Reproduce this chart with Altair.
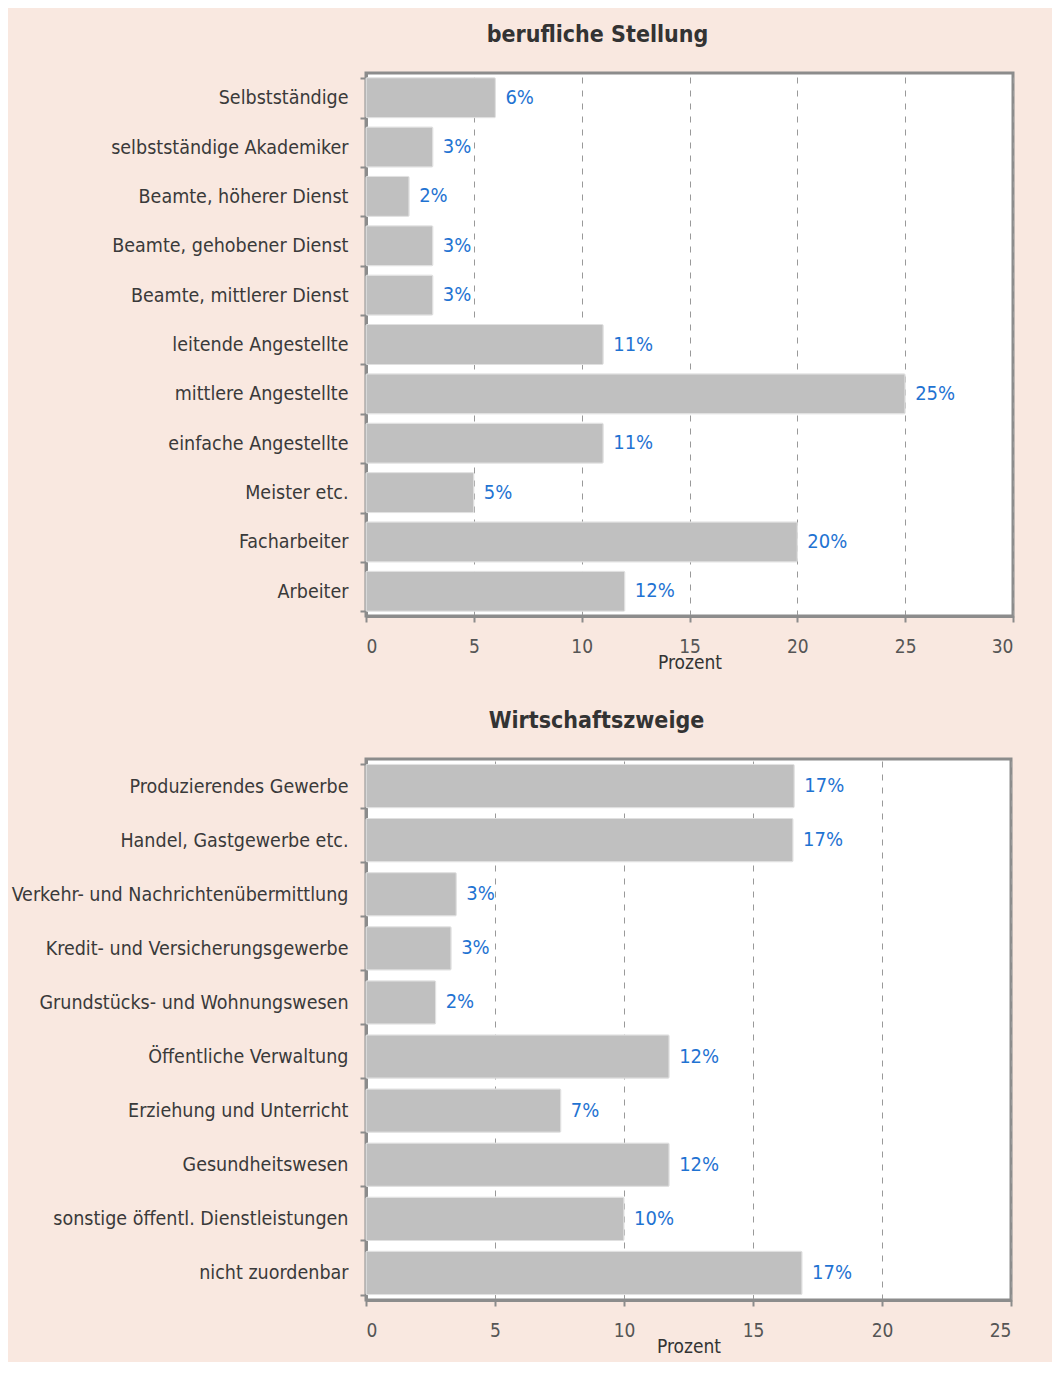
import altair as alt
import pandas as pd

# --- data ---
stellung_cats = ["Selbstständige", "selbstständige Akademiker", "Beamte, höherer Dienst",
                 "Beamte, gehobener Dienst", "Beamte, mittlerer Dienst", "leitende Angestellte",
                 "mittlere Angestellte", "einfache Angestellte", "Meister etc.",
                 "Facharbeiter", "Arbeiter"]
stellung_vals = [6.0, 3.1, 2.0, 3.1, 3.1, 11.0, 25.0, 11.0, 5.0, 20.0, 12.0]
stellung_lbls = ["6%", "3%", "2%", "3%", "3%", "11%", "25%", "11%", "5%", "20%", "12%"]

zweige_cats = ["Produzierendes Gewerbe", "Handel, Gastgewerbe etc.",
               "Verkehr- und Nachrichtenübermittlung", "Kredit- und Versicherungsgewerbe",
               "Grundstücks- und Wohnungswesen", "Öffentliche Verwaltung",
               "Erziehung und Unterricht", "Gesundheitswesen",
               "sonstige öffentl. Dienstleistungen", "nicht zuordenbar"]
zweige_vals = [16.6, 16.55, 3.5, 3.3, 2.7, 11.75, 7.55, 11.75, 10.0, 16.9]
zweige_lbls = ["17%", "17%", "3%", "3%", "2%", "12%", "7%", "12%", "10%", "17%"]

stellung_ticks = [0, 5, 10, 15, 20, 25, 30]
zweige_ticks = [0, 5, 10, 15, 20, 25]

FONT = "DejaVu Sans Condensed, Roboto, sans-serif"
PINK = "#f9e8e0"
BAR = "#c0c0c0"
BLUE = "#1f73d2"


def panel(cats, vals, lbls, ticks, title, w, h, pad):
    df = pd.DataFrame({"cat": cats, "val": vals, "lbl": lbls})
    x = alt.X("val:Q", title="Prozent",
              scale=alt.Scale(domain=[ticks[0], ticks[-1]], nice=False),
              axis=alt.Axis(values=ticks, grid=True, gridDash=[6, 7], gridColor="#999999",
                            gridWidth=1, domainColor="#8c8c8c", domainWidth=3,
                            tickColor="#8c8c8c", tickWidth=2, tickSize=6,
                            labelFont=FONT, labelFontSize=19, labelColor="#555555",
                            labelPadding=15, titleFont=FONT, titleFontSize=19,
                            titleFontWeight="normal", titleColor="#333333",
                            titlePadding=-3))
    y = alt.Y("cat:N", sort=cats, title=None,
              scale=alt.Scale(paddingInner=pad, paddingOuter=pad / 2),
              axis=alt.Axis(domainColor="#8c8c8c", domainWidth=3, tickColor="#8c8c8c",
                            tickWidth=2, tickSize=6, tickBand="extent",
                            labelFont=FONT, labelFontSize=19.5, labelColor="#3a3a3a",
                            labelPadding=12, labelLimit=400))
    bars = alt.Chart(df).mark_bar(color=BAR, stroke="#e0e0e0", strokeWidth=1,
                                  cornerRadius=1).encode(x=x, y=y)
    text = alt.Chart(df).mark_text(align="left", baseline="middle", dx=10, color=BLUE,
                                   font=FONT, fontSize=20).encode(
        x=alt.X("val:Q"), y=alt.Y("cat:N", sort=cats), text="lbl:N")
    return (bars + text).properties(
        width=w, height=h,
        title=alt.TitleParams(title, font=FONT, fontSize=23, fontWeight="bold",
                              color="#333333", anchor="middle", dx=-92, offset=16))


top = panel(stellung_cats, stellung_vals, stellung_lbls, stellung_ticks,
            "berufliche Stellung", 647, 543, 0.19)
bottom = panel(zweige_cats, zweige_vals, zweige_lbls, zweige_ticks,
               "Wirtschaftszweige", 645, 541, 0.2)

chart = alt.vconcat(top, bottom, spacing=34).properties(
    background=PINK,
    padding={"left": 1, "top": 14, "right": 36, "bottom": 4},
).configure_view(fill="white", stroke="#8c8c8c", strokeWidth=3).configure_concat(spacing=34)

chart.save("out.html", embed_options={"renderer": "svg", "actions": False})
